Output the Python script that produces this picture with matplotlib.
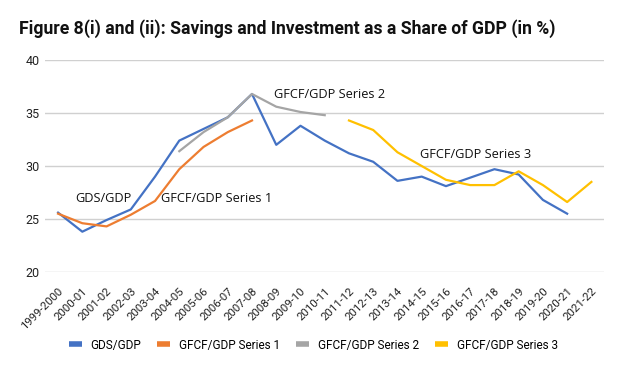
import numpy as np
import matplotlib.pyplot as plt
import matplotlib.transforms as mtransforms
from matplotlib.lines import Line2D

years = [
    "1999-2000", "2000-01", "2001-02", "2002-03", "2003-04", "2004-05",
    "2005-06", "2006-07", "2007-08", "2008-09", "2009-10", "2010-11",
    "2011-12", "2012-13", "2013-14", "2014-15", "2015-16", "2016-17",
    "2017-18", "2018-19", "2019-20", "2020-21", "2021-22",
]

# GDS/GDP: 1999-2000 to 2020-21
gds_gdp = [25.6, 23.8, 24.9, 25.9, 29.0, 32.4, 33.5, 34.6, 36.8, 32.0,
           33.8, 32.4, 31.2, 30.4, 28.6, 29.0, 28.1, 28.9, 29.7, 29.2,
           26.8, 25.5]

# GFCF/GDP Series 1: 1999-2000 to 2007-08
gfcf_s1 = [25.5, 24.6, 24.3, 25.4, 26.7, 29.7, 31.8, 33.2, 34.3]

# GFCF/GDP Series 2: 2004-05 to 2010-11
gfcf_s2 = [31.4, 33.2, 34.6, 36.8, 35.6, 35.1, 34.8]

# GFCF/GDP Series 3: 2011-12 to 2021-22
gfcf_s3 = [34.3, 33.4, 31.3, 30.0, 28.7, 28.2, 28.2, 29.5, 28.2, 26.6, 28.5]

series_names = ["GDS/GDP", "GFCF/GDP Series 1", "GFCF/GDP Series 2", "GFCF/GDP Series 3"]
colors = ["#4472C4", "#ED7D31", "#A5A5A5", "#FFC000"]


def main():
    fig = plt.figure(figsize=(6.23, 3.71), dpi=100)
    ax = fig.add_axes([0.0722, 0.267, 0.8973, 0.571])

    x = np.arange(len(years))
    starts = [0, 0, 5, 12]
    data = [gds_gdp, gfcf_s1, gfcf_s2, gfcf_s3]

    for name, col, start, vals in zip(series_names, colors, starts, data):
        xs = x[start:start + len(vals)]
        ax.plot(xs, vals, color=col, linewidth=1.6, zorder=3)

    ax.set_ylim(20, 40)
    ax.set_yticks([20, 25, 30, 35, 40])
    ax.set_xlim(-0.54, 22.52)
    ax.set_xticks(x)
    ax.set_xticklabels(years, rotation=45, ha="right", rotation_mode="anchor",
                       fontsize=8.2, family="Roboto")
    # nudge rotated labels a little to the right, like the original
    shift = mtransforms.ScaledTranslation(5 / 100, 0, fig.dpi_scale_trans)
    for lbl in ax.get_xticklabels():
        lbl.set_transform(lbl.get_transform() + shift)
    for lbl in ax.get_yticklabels():
        lbl.set_family("Roboto")
        lbl.set_fontsize(9)
    ax.tick_params(axis="both", length=0, colors="#222222")
    ax.tick_params(axis="y", pad=4)
    ax.tick_params(axis="x", pad=10)

    ax.grid(axis="y", color="#D0D0D0", linewidth=1.0)
    ax.set_axisbelow(True)
    for side in ["top", "right", "left", "bottom"]:
        ax.spines[side].set_visible(False)

    # in-chart series labels
    lab_kw = dict(fontsize=9.2, family="Open Sans", color="#111111", zorder=4)
    ax.text(1.86, 26.95, "GDS/GDP", ha="center", va="center", **lab_kw)
    ax.text(4.25, 26.95, "GFCF/GDP Series 1", ha="left", va="center", **lab_kw)
    ax.text(8.9, 36.75, "GFCF/GDP Series 2", ha="left", va="center", **lab_kw)
    ax.text(14.95, 31.1, "GFCF/GDP Series 3", ha="left", va="center", **lab_kw)

    fig.text(0.030, 0.922, "Figure 8(i) and (ii): Savings and Investment as a Share of GDP (in %)",
             fontsize=12.7, fontweight="bold", family="Roboto", color="#111111",
             ha="left", va="center")

    handles = [Line2D([0], [0], color=c, linewidth=4, solid_capstyle="butt")
               for c in colors]
    fig.legend(handles, series_names, loc="center", bbox_to_anchor=(0.503, 0.07),
               ncol=4, frameon=False, handlelength=1.1, columnspacing=1.35,
               handletextpad=0.75, prop={"family": "Roboto", "size": 8.5})

    fig.savefig("out.png", dpi=100)


if __name__ == "__main__":
    main()
